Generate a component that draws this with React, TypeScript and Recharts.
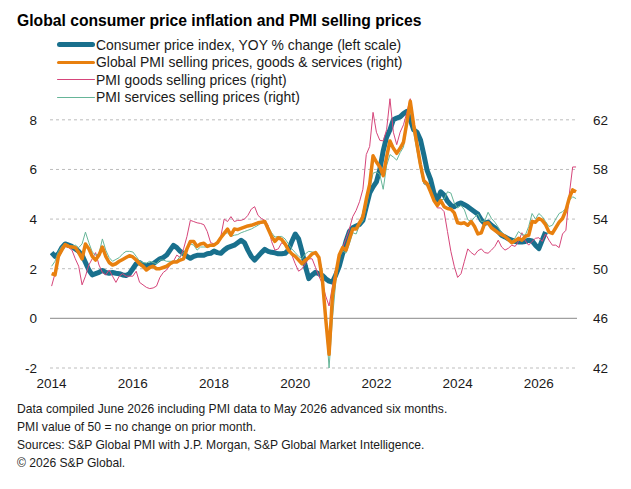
import React from "react";
import { LineChart, Line, XAxis, YAxis, ReferenceLine } from "recharts";

// monthly series, Jan 2014 onwards (PMI plotted advanced six months)
const START_YEAR = 2014;

const cpiYoy = [
  2.65, 2.5, 2.6, 2.85, 3.0, 2.95, 2.9, 2.8, 2.7, 2.55, 2.25, 1.95,
  1.75, 1.8, 1.85, 1.93, 1.85, 1.82, 1.85, 1.82, 1.8, 1.75, 1.73, 1.8,
  2.0, 2.2, 2.25, 2.15, 2.13, 2.15, 2.2, 2.3, 2.4, 2.45, 2.55, 2.75,
  2.94, 2.85, 2.7, 2.6, 2.5, 2.42, 2.5, 2.54, 2.54, 2.54, 2.6, 2.62,
  2.71, 2.65, 2.62, 2.75, 2.85, 2.9, 2.95, 3.05, 3.15, 3.05, 2.75, 2.5,
  2.35, 2.5, 2.65, 2.78, 2.7, 2.66, 2.64, 2.6, 2.6, 2.62, 2.75, 3.1,
  3.4, 3.2, 2.7, 2.1, 1.6, 1.75, 1.86, 1.8, 1.73, 1.6, 1.5, 1.46,
  1.75, 2.1, 2.6, 3.1, 3.5, 3.65, 3.72, 3.78, 3.95, 4.5, 5.05, 5.3,
  5.5, 6.0, 6.75, 7.3, 7.6, 8.0, 8.07, 8.12, 8.25, 8.34, 8.0, 7.6,
  7.5, 7.2, 6.6, 5.95, 5.6, 5.05, 4.77, 5.1, 4.97, 4.72, 4.56, 4.5,
  4.6, 4.65, 4.58, 4.5, 4.4, 4.3, 4.2, 3.96, 3.82, 3.88, 3.75, 3.65,
  3.5, 3.35, 3.28, 3.2, 3.15, 3.1, 3.08, 3.08, 3.1, 3.15, 3.12, 2.95,
  2.81, 3.15, 3.48,
];

const pmiAll = [
  49.6, 49.5, 51.0, 51.5, 51.95, 51.8, 51.75, 51.7, 51.3, 50.8, 52.0, 51.6,
  51.0, 50.7, 51.1, 51.75, 51.0, 50.5, 50.3, 50.4, 50.6, 50.75, 50.9, 51.05,
  50.95, 50.7, 50.4, 50.2, 49.9, 50.1, 50.2, 50.0, 50.0, 50.1, 50.2, 50.4,
  50.55, 50.55, 50.7, 50.8, 51.6, 52.2, 52.2, 51.8, 52.0, 52.05, 51.8, 51.9,
  51.9, 52.1, 52.5, 52.85, 53.2, 52.7, 53.2, 53.15, 53.25, 53.35, 53.45, 53.5,
  53.6, 53.7, 53.75, 53.8, 53.2, 52.6, 52.2, 52.5, 52.35, 52.0, 51.5, 51.2,
  51.0, 50.7, 50.4, 50.7, 50.9, 51.2, 51.3, 50.9, 49.2, 46.0, 43.1, 47.8,
  49.6, 51.1, 51.7, 51.5, 52.4, 53.2, 53.2, 53.7, 54.2, 55.6, 56.8, 59.1,
  58.6, 58.2, 57.5, 59.0, 60.3, 59.7, 59.3, 59.7, 60.2, 61.8, 63.5, 61.6,
  60.0, 58.4, 57.1, 56.85, 56.2, 55.5, 55.1, 55.5, 55.0, 54.85, 54.8, 54.5,
  53.7, 53.65, 53.7, 53.5, 53.8, 53.4, 52.8, 52.9, 53.65, 53.7, 53.3, 53.1,
  52.9, 52.75, 52.6, 52.35, 52.1, 52.25, 52.45, 52.3, 52.6, 52.7, 53.8, 53.75,
  54.05, 53.9, 53.55, 52.95, 52.85, 53.3, 53.75, 54.05, 54.7, 55.7, 56.35, 56.2,
];

const pmiGoods = [
  48.6, 49.6, 51.0, 51.8, 51.8, 51.7, 51.5, 50.8, 50.2, 48.7, 49.4, 50.3,
  50.8, 51.3, 50.3, 49.7, 49.5, 49.9, 49.4, 48.9, 49.4, 49.6, 49.4, 49.4,
  49.4, 49.8, 48.9, 48.7, 48.5, 48.4, 48.45, 48.6, 49.3, 49.7, 49.9, 50.3,
  50.6, 51.1, 50.9, 51.6, 52.6, 53.9, 53.8, 53.7, 53.65, 53.55, 53.0, 52.1,
  52.0, 52.0, 52.6, 54.0, 53.8, 54.2, 53.8, 53.9, 53.9, 54.0, 54.3, 54.8,
  55.0, 54.3, 54.05, 53.9, 53.5, 52.2, 51.5, 51.6, 52.1, 51.9, 51.6, 51.1,
  50.4, 49.8, 50.0, 50.4, 50.8, 50.8, 50.1, 49.4, 48.8, 47.8, 47.0, 48.6,
  50.0, 50.9, 51.7, 52.4, 53.2, 54.2, 54.7, 55.4, 56.4, 59.2, 59.85, 62.6,
  61.0, 60.35, 60.3, 61.2, 63.7, 61.0, 60.0, 61.0, 61.6, 62.6, 63.7, 61.9,
  60.2, 58.2, 56.85, 56.7, 56.25, 55.6, 54.9, 54.9, 54.6, 53.0, 51.4, 50.2,
  49.3, 49.6, 50.6, 51.6, 51.3, 51.1, 51.45, 51.6, 51.3, 51.25, 51.5, 51.8,
  52.3, 51.75, 51.5, 51.65, 51.9, 51.8, 52.2, 52.9, 52.25, 51.9, 52.2, 52.45,
  52.5, 52.2, 52.8, 52.3, 51.9, 51.9, 51.7, 52.8, 53.1, 56.0, 58.2, 58.2,
];

const pmiServices = [
  50.2, 50.6, 51.4, 51.8, 52.0, 51.9, 51.8, 51.9, 51.7, 52.0, 52.95, 52.1,
  51.35, 51.1, 51.2, 52.4, 51.5, 50.9, 50.6, 50.75, 50.9, 51.2, 51.4, 51.4,
  51.35, 51.0, 50.6, 50.5, 50.45, 50.6, 50.5, 50.4, 50.7, 50.7, 50.6, 50.6,
  50.6, 50.65, 51.0, 51.3, 51.7, 52.0, 51.9, 51.5, 51.75, 51.75, 51.75, 51.8,
  51.9, 52.0, 52.4, 52.8, 52.9, 52.6, 52.7, 52.75, 52.9, 53.0, 53.1, 53.2,
  53.35, 53.5, 53.7, 53.7, 53.4, 52.9, 52.55, 52.6, 52.6, 52.4, 52.0, 51.6,
  51.3, 51.0, 50.8, 51.2, 51.4, 51.35, 51.3, 51.0, 49.8, 46.0, 42.0, 46.0,
  49.0, 50.9, 51.45, 51.25, 52.0, 52.9, 52.8, 53.5, 53.85, 55.0, 56.4, 57.7,
  57.8, 57.6, 56.4, 58.3, 59.2, 59.0, 58.75, 59.35, 59.8, 61.6, 63.0, 61.0,
  59.5, 58.0, 56.85, 56.7, 56.3, 55.6, 55.25, 55.55, 55.6, 56.2, 56.1, 55.3,
  54.9, 55.1, 54.75, 53.95, 53.8, 54.15, 54.4, 53.8, 53.85, 54.55, 54.05, 53.75,
  53.35, 52.9, 52.7, 52.4, 52.2, 52.5, 53.0, 52.75, 52.7, 53.4, 54.45, 54.0,
  54.45, 54.2, 53.8, 53.4, 53.5, 54.0, 54.45, 54.6, 54.85, 55.5, 55.8, 55.65,
];

const yearTicks = [2014, 2016, 2018, 2020, 2022, 2024, 2026];
const leftTicks = [-2, 0, 2, 4, 6, 8];
const rightTicks = [42, 46, 50, 54, 58, 62];
const dashedLevels = [-2, 2, 4, 6, 8];

const legendItems = [
  { label: "Consumer price index, YOY % change (left scale)", color: "#19708d", width: 5 },
  { label: "Global PMI selling prices, goods & services (right)", color: "#e8800f", width: 3.5 },
  { label: "PMI goods selling prices (right)", color: "#d6457a", width: 1.2 },
  { label: "PMI services selling prices (right)", color: "#66b598", width: 1.2 },
];

const notes = [
  "Data compiled June 2026 including PMI data to May 2026 advanced six months.",
  "PMI value of 50 = no change on prior month.",
  "Sources: S&P Global PMI with J.P. Morgan, S&P Global Market Intelligence.",
  "\u00a9 2026 S&P Global.",
];

const rows = pmiAll.map((v, i) => ({
  t: START_YEAR + i / 12,
  cpi: cpiYoy[i],
  pmi: v,
  goods: pmiGoods[i],
  services: pmiServices[i],
}));

const FONT = '"Liberation Sans", Arial, sans-serif';
const tickStyle = { fill: "#1a1a1a", fontSize: 13.5, fontFamily: FONT };

export default function App() {
  return (
    <div
      style={{
        position: "absolute",
        left: 0,
        top: 0,
        width: 631,
        height: 489,
        background: "#fff",
        fontFamily: FONT,
        overflow: "hidden",
      }}
    >
      <LineChart
        width={631}
        height={489}
        data={rows}
        margin={{ top: 95, right: 0, bottom: 91, left: 0 }}
      >
        <XAxis
          dataKey="t"
          type="number"
          domain={[2013.96, 2026.94]}
          ticks={yearTicks}
          interval={0}
          axisLine={false}
          tickLine={false}
          tickSize={0}
          tickMargin={10}
          height={30}
          tick={tickStyle}
          allowDataOverflow
        />
        <YAxis
          yAxisId="left"
          domain={[-2, 9]}
          ticks={leftTicks}
          interval={0}
          axisLine={false}
          tickLine={false}
          tickSize={0}
          tickMargin={13}
          width={50}
          tick={tickStyle}
          allowDataOverflow
        />
        <YAxis
          yAxisId="right"
          orientation="right"
          domain={[42, 64]}
          ticks={rightTicks}
          interval={0}
          axisLine={false}
          tickLine={false}
          tickSize={0}
          tickMargin={16}
          width={54}
          tick={tickStyle}
          allowDataOverflow
        />
        {dashedLevels.map((lv) => (
          <ReferenceLine
            key={lv}
            yAxisId="left"
            y={lv}
            stroke="#bdbdbd"
            strokeDasharray="3 3"
          />
        ))}
        <ReferenceLine yAxisId="left" y={0} stroke="#a0a0a0" strokeWidth={1.4} />
        <Line
          yAxisId="left"
          dataKey="cpi"
          type="linear"
          stroke="#19708d"
          strokeWidth={5}
          strokeLinejoin="round"
          dot={false}
          isAnimationActive={false}
        />
        <Line
          yAxisId="right"
          dataKey="goods"
          type="linear"
          stroke="#d6457a"
          strokeWidth={1}
          dot={false}
          isAnimationActive={false}
        />
        <Line
          yAxisId="right"
          dataKey="services"
          type="linear"
          stroke="#66b598"
          strokeWidth={1}
          dot={false}
          isAnimationActive={false}
        />
        <Line
          yAxisId="right"
          dataKey="pmi"
          type="linear"
          stroke="#e8800f"
          strokeWidth={3.5}
          strokeLinejoin="round"
          dot={false}
          isAnimationActive={false}
        />
      </LineChart>

      <div
        style={{
          position: "absolute",
          left: 17,
          top: 13,
          fontSize: 15.7,
          lineHeight: 1,
          fontWeight: "bold",
          color: "#000",
          whiteSpace: "nowrap",
        }}
      >
        Global consumer price inflation and PMI selling prices
      </div>

      <div style={{ position: "absolute", left: 57, top: 36 }}>
        {legendItems.map((item) => (
          <div
            key={item.label}
            style={{ display: "flex", alignItems: "center", height: 17.5, fontSize: 13.9, color: "#1a1a1a", whiteSpace: "nowrap" }}
          >
            <div
              style={{
                width: 38,
                height: item.width,
                background: item.color,
                borderRadius: item.width / 2,
                marginRight: 1,
              }}
            />
            <span>{item.label}</span>
          </div>
        ))}
      </div>

      <div style={{ position: "absolute", left: 17, top: 400 }}>
        {notes.map((n) => (
          <div key={n} style={{ fontSize: 12.1, lineHeight: "18px", color: "#1a1a1a", whiteSpace: "nowrap" }}>
            {n}
          </div>
        ))}
      </div>
    </div>
  );
}
